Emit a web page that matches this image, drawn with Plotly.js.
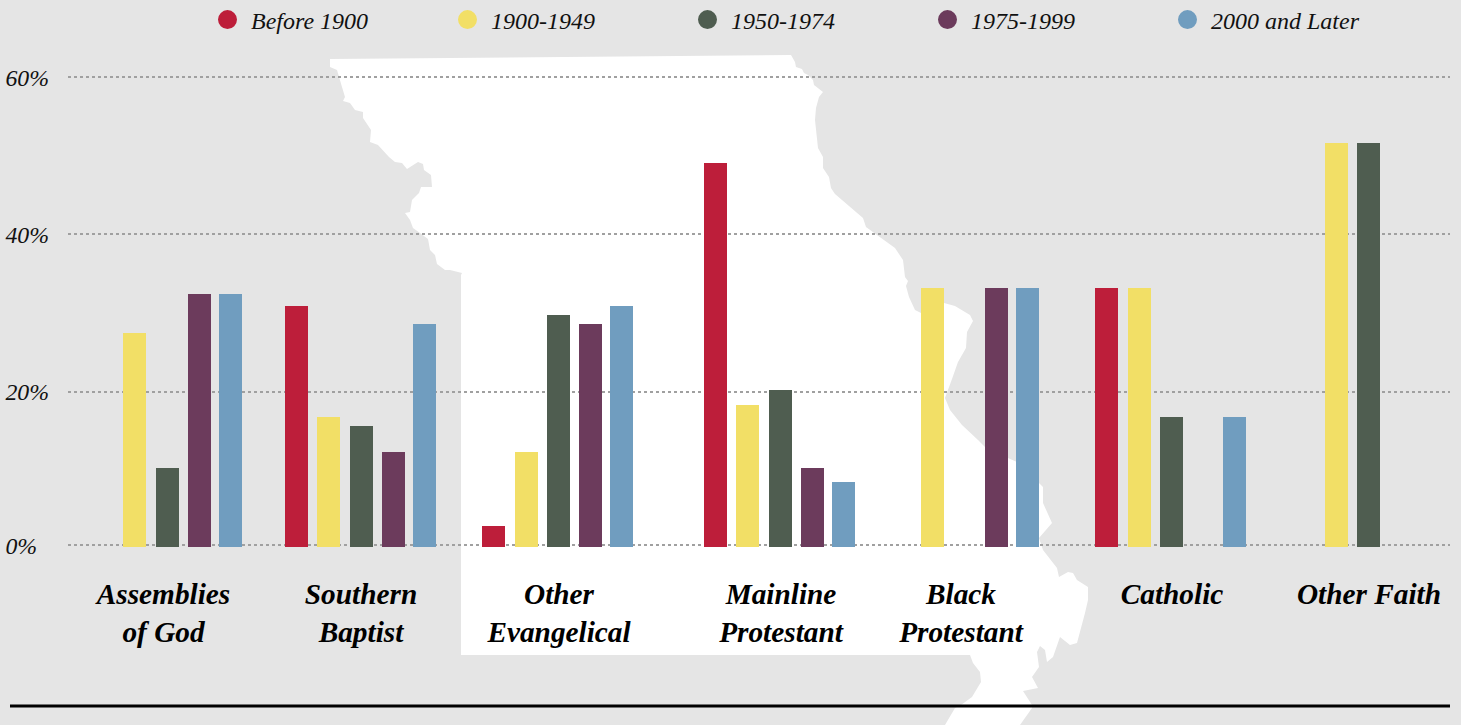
<!DOCTYPE html>
<html>
<head>
<meta charset="utf-8">
<script src="https://cdn.plot.ly/plotly-3.0.1.min.js"></script>
<style>html,body{margin:0;padding:0;background:#e5e5e5;overflow:hidden}#chart{width:1461px;height:725px}</style>
</head>
<body>
<div id="chart"></div>
<script>
const categories = ["Assemblies<br>of God","Southern<br>Baptist","Other<br>Evangelical","Mainline<br>Protestant","Black<br>Protestant","Catholic","Other Faith"];
const seriesNames = ["Before 1900","1900-1949","1950-1974","1975-1999","2000 and Later"];
const seriesColors = ["#bd1e3a","#f2df66","#4f5d50","#6c3b5c","#709dbf"];
const before1900 = [null,30.9,2.7,49.2,null,33.2,null];
const y1900to1949 = [27.4,16.7,12.2,18.2,33.2,33.2,51.8];
const y1950to1974 = [10.1,15.5,29.7,20.1,null,16.7,51.8];
const y1975to1999 = [32.4,12.2,28.6,10.1,33.2,null,null];
const y2000andLater = [32.4,28.6,30.9,8.3,33.2,16.7,null];
const allSeries = [before1900,y1900to1949,y1950to1974,y1975to1999,y2000andLater];

const groupStarts = [91,285,482.4,704,888.4,1095.4,1292.4];
const slotOffsets = [0,32.4,65,97,128];
const barWidth = 23;
const labelCentres = [163.5,361,559,781,961,1172,1369];
const gridValues = [0.2,19.9,40.1,60.2];
const gridLabels = ["0%\u00A0\u00A0","20%","40%","60%"];

const W = 1461, H = 725, L = 68, R = 1450, BASE = 547;
// Silhouette of Missouri behind the chart, traced in page pixels
const stateOutline = [[330,59],[791,55],[795,62],[796,67],[802,69],[804,73],[808,75],[813,80],[814,85],[823,92],[819,97],[816,108],[815,120],[818,148],[823,157],[823,168],[829,177],[831,188],[835,194],[863,218],[866,227],[877,235],[895,248],[903,260],[905,277],[908,281],[906,286],[909,297],[915,310],[921,313],[944,303],[955,306],[970,315],[973,321],[967,332],[966,348],[958,362],[952,379],[945,398],[950,410],[962,425],[978,440],[985,447],[1008,458],[1017,462],[1039,483],[1043,487],[1043,503],[1052,523],[1039,538],[1043,550],[1057,568],[1059,577],[1068,572],[1073,573],[1077,580],[1088,587],[1088,600],[1085,613],[1077,643],[1070,645],[1060,637],[1053,657],[1047,662],[1045,650],[1040,646],[1037,652],[1039,667],[1032,677],[1038,688],[1023,691],[1032,705],[1032,708],[1020,725],[945,725],[955,708],[961,705],[972,697],[981,682],[980,672],[973,663],[970,655],[461,655],[461,275],[462,273],[450,270],[445,270],[437,264],[435,255],[430,250],[428,239],[420,233],[413,228],[410,220],[405,213],[410,212],[412,200],[419,193],[421,187],[432,187],[431,175],[424,170],[423,164],[418,162],[407,169],[402,163],[395,162],[389,157],[378,145],[370,142],[371,130],[363,118],[363,112],[355,110],[350,103],[343,101],[345,97],[342,87],[337,70],[330,67]];
const statePath = stateOutline.map((p,i)=>(i?"L":"M")+((p[0]-L)/(R-L)).toFixed(5)+" "+((BASE-p[1])/BASE).toFixed(5)).join(" ")+" Z";

const serif = "'Liberation Serif','Times New Roman',serif";
const traces = [];
allSeries.forEach((vals,s)=>{
  traces.push({type:"bar",name:seriesNames[s],x:groupStarts.map(g=>g+slotOffsets[s]+barWidth/2),y:vals,width:barWidth,
    marker:{color:seriesColors[s],line:{width:0}},showlegend:false,hoverinfo:"y"});
});
allSeries.forEach((vals,s)=>{
  traces.push({type:"scatter",mode:"markers",name:seriesNames[s],x:[null],y:[null],
    marker:{color:seriesColors[s],size:16,line:{color:seriesColors[s],width:3}},showlegend:true,hoverinfo:"skip"});
});

const layout = {
  width:W,height:H,
  margin:{l:L,r:W-R,t:0,b:H-BASE,pad:0,autoexpand:false},
  paper_bgcolor:"#e5e5e5",plot_bgcolor:"rgba(0,0,0,0)",
  barmode:"overlay",bargap:0,
  font:{family:serif,color:"#000"},
  showlegend:true,
  legend:{orientation:"h",x:(204-L)/(R-L),xanchor:"left",y:(BASE-20)/BASE,yanchor:"middle",
    bgcolor:"rgba(0,0,0,0)",entrywidth:188,entrywidthmode:"pixels",itemsizing:"trace",itemwidth:37,
    font:{family:serif,size:24,style:"italic",color:"#111"}},
  xaxis:{range:[L,R],tickmode:"array",tickvals:labelCentres,ticktext:categories,tickangle:0,
    ticks:"",showgrid:false,zeroline:false,showline:false,ticklabelstandoff:27,
    tickfont:{family:serif,size:29.3,weight:700,style:"italic",color:"#000"}},
  yaxis:{range:[0,BASE/7.8],tickmode:"array",tickvals:gridValues,ticktext:gridLabels,
    ticks:"",showgrid:true,gridcolor:"#a0a0a0",gridwidth:2,griddash:"3px,3px",zeroline:false,showline:false,
    ticklabelstandoff:18,
    tickfont:{family:serif,size:23.8,style:"italic",color:"#111"}},
  shapes:[
    {type:"path",xref:"paper",yref:"paper",layer:"below",path:statePath,fillcolor:"#ffffff",line:{width:0}},
    {type:"line",xref:"paper",yref:"paper",layer:"above",x0:(10-L)/(R-L),x1:1,y0:(BASE-706)/BASE,y1:(BASE-706)/BASE,line:{color:"#000",width:3}}
  ]
};
Plotly.newPlot("chart",traces,layout,{displayModeBar:false,staticPlot:true});
</script>
</body>
</html>
